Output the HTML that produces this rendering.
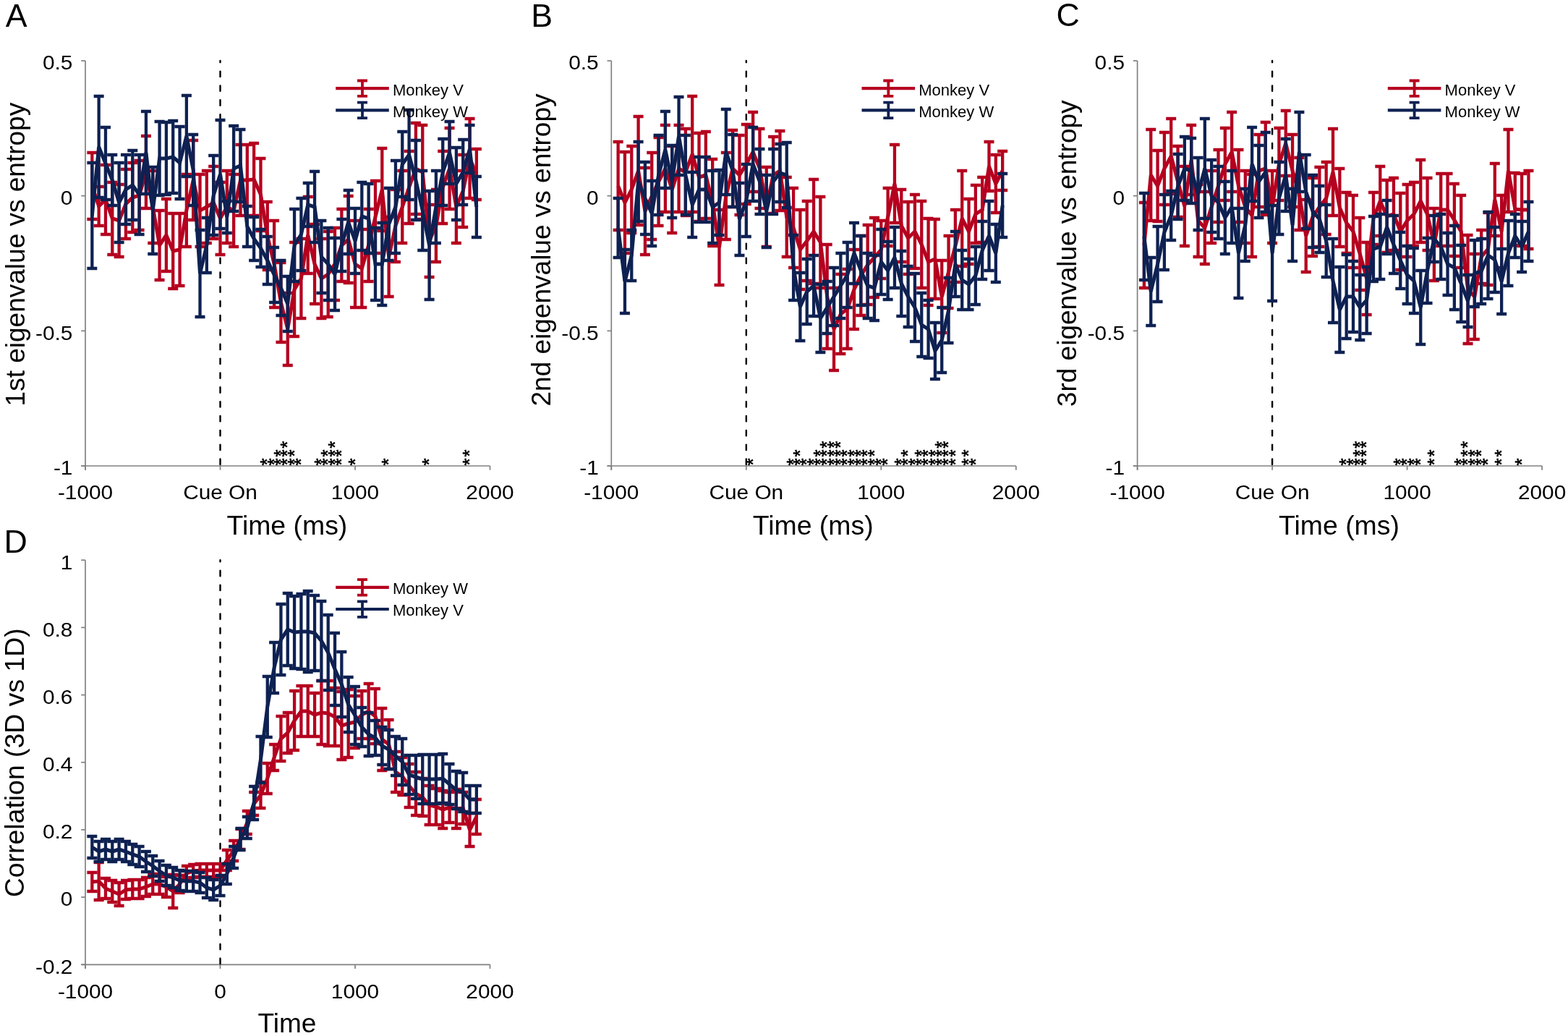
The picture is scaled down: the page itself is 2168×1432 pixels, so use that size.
<!DOCTYPE html>
<html><head><meta charset="utf-8"><title>Figure</title>
<style>html,body{margin:0;padding:0;background:#fff;overflow:hidden;}svg{display:block;}</style>
</head><body>
<svg width="2168" height="1432" viewBox="0 0 2168 1432" font-family="'Liberation Sans', Arial, sans-serif" fill="#000">
<path d="M118.00,84.00V649.70" stroke="#808080" stroke-width="1.7" fill="none"/>
<path d="M112.20,84.00H118.00" stroke="#808080" stroke-width="1.7"/>
<path d="M112.20,270.67H118.00" stroke="#808080" stroke-width="1.7"/>
<path d="M112.20,457.34H118.00" stroke="#808080" stroke-width="1.7"/>
<path d="M112.20,644.00H118.00" stroke="#808080" stroke-width="1.7"/>
<path d="M112.20,644.00H677.50" stroke="#808080" stroke-width="1.7" fill="none"/>
<path d="M118.00,644.00V649.70" stroke="#808080" stroke-width="1.7"/>
<path d="M304.50,644.00V649.70" stroke="#808080" stroke-width="1.7"/>
<path d="M491.00,644.00V649.70" stroke="#808080" stroke-width="1.7"/>
<path d="M677.50,644.00V649.70" stroke="#808080" stroke-width="1.7"/>
<path d="M304.50,84.00V644.00" stroke="#000" stroke-width="2.4" stroke-linecap="round" stroke-dasharray="7.4 12.45" stroke-dashoffset="5.25" fill="none"/>
<text transform="translate(100.40,96.30) scale(1.065,1)" font-size="28.00" text-anchor="end">0.5</text>
<text transform="translate(100.40,282.97) scale(1.065,1)" font-size="28.00" text-anchor="end">0</text>
<text transform="translate(100.40,469.64) scale(1.065,1)" font-size="28.00" text-anchor="end">-0.5</text>
<text transform="translate(100.40,656.30) scale(1.065,1)" font-size="28.00" text-anchor="end">-1</text>
<text transform="translate(118.00,689.80) scale(1.065,1)" font-size="28.00" text-anchor="middle">-1000</text>
<text transform="translate(304.50,689.80) scale(1.065,1)" font-size="28.00" text-anchor="middle">Cue On</text>
<text transform="translate(491.00,689.80) scale(1.065,1)" font-size="28.00" text-anchor="middle">1000</text>
<text transform="translate(677.50,689.80) scale(1.065,1)" font-size="28.00" text-anchor="middle">2000</text>
<text transform="translate(378.44,638.40) rotate(-90)" font-size="26.0" text-anchor="middle" stroke="#000" stroke-width="0.6">*</text>
<text transform="translate(387.76,638.40) rotate(-90)" font-size="26.0" text-anchor="middle" stroke="#000" stroke-width="0.6">*</text>
<text transform="translate(397.09,638.40) rotate(-90)" font-size="26.0" text-anchor="middle" stroke="#000" stroke-width="0.6">*</text>
<text transform="translate(406.41,638.40) rotate(-90)" font-size="26.0" text-anchor="middle" stroke="#000" stroke-width="0.6">*</text>
<text transform="translate(415.74,638.40) rotate(-90)" font-size="26.0" text-anchor="middle" stroke="#000" stroke-width="0.6">*</text>
<text transform="translate(425.06,638.40) rotate(-90)" font-size="26.0" text-anchor="middle" stroke="#000" stroke-width="0.6">*</text>
<text transform="translate(453.04,638.40) rotate(-90)" font-size="26.0" text-anchor="middle" stroke="#000" stroke-width="0.6">*</text>
<text transform="translate(462.36,638.40) rotate(-90)" font-size="26.0" text-anchor="middle" stroke="#000" stroke-width="0.6">*</text>
<text transform="translate(471.69,638.40) rotate(-90)" font-size="26.0" text-anchor="middle" stroke="#000" stroke-width="0.6">*</text>
<text transform="translate(481.01,638.40) rotate(-90)" font-size="26.0" text-anchor="middle" stroke="#000" stroke-width="0.6">*</text>
<text transform="translate(499.66,638.40) rotate(-90)" font-size="26.0" text-anchor="middle" stroke="#000" stroke-width="0.6">*</text>
<text transform="translate(546.29,638.40) rotate(-90)" font-size="26.0" text-anchor="middle" stroke="#000" stroke-width="0.6">*</text>
<text transform="translate(602.24,638.40) rotate(-90)" font-size="26.0" text-anchor="middle" stroke="#000" stroke-width="0.6">*</text>
<text transform="translate(658.19,638.40) rotate(-90)" font-size="26.0" text-anchor="middle" stroke="#000" stroke-width="0.6">*</text>
<text transform="translate(397.09,626.50) rotate(-90)" font-size="26.0" text-anchor="middle" stroke="#000" stroke-width="0.6">*</text>
<text transform="translate(406.41,626.50) rotate(-90)" font-size="26.0" text-anchor="middle" stroke="#000" stroke-width="0.6">*</text>
<text transform="translate(415.74,626.50) rotate(-90)" font-size="26.0" text-anchor="middle" stroke="#000" stroke-width="0.6">*</text>
<text transform="translate(462.36,626.50) rotate(-90)" font-size="26.0" text-anchor="middle" stroke="#000" stroke-width="0.6">*</text>
<text transform="translate(471.69,626.50) rotate(-90)" font-size="26.0" text-anchor="middle" stroke="#000" stroke-width="0.6">*</text>
<text transform="translate(481.01,626.50) rotate(-90)" font-size="26.0" text-anchor="middle" stroke="#000" stroke-width="0.6">*</text>
<text transform="translate(658.19,626.50) rotate(-90)" font-size="26.0" text-anchor="middle" stroke="#000" stroke-width="0.6">*</text>
<text transform="translate(406.41,614.60) rotate(-90)" font-size="26.0" text-anchor="middle" stroke="#000" stroke-width="0.6">*</text>
<text transform="translate(471.69,614.60) rotate(-90)" font-size="26.0" text-anchor="middle" stroke="#000" stroke-width="0.6">*</text>
<path d="M127.33,211.00V303.00M120.33,211.00H134.32M120.33,303.00H134.32M136.65,258.00V312.00M129.65,258.00H143.65M129.65,312.00H143.65M145.97,228.00V324.00M138.97,228.00H152.97M138.97,324.00H152.97M155.30,252.00V352.00M148.30,252.00H162.30M148.30,352.00H162.30M164.62,255.00V355.00M157.62,255.00H171.62M157.62,355.00H171.62M173.95,234.00V330.00M166.95,234.00H180.95M166.95,330.00H180.95M183.28,225.00V321.00M176.28,225.00H190.28M176.28,321.00H190.28M192.60,222.00V318.00M185.60,222.00H199.60M185.60,318.00H199.60M201.93,188.00V288.00M194.93,188.00H208.93M194.93,288.00H208.93M211.25,236.00V336.00M204.25,236.00H218.25M204.25,336.00H218.25M220.57,291.00V387.00M213.57,291.00H227.57M213.57,387.00H227.57M229.90,275.00V375.00M222.90,275.00H236.90M222.90,375.00H236.90M239.22,295.00V399.00M232.22,295.00H246.22M232.22,399.00H246.22M248.55,295.00V395.00M241.55,295.00H255.55M241.55,395.00H255.55M257.88,241.00V341.00M250.88,241.00H264.88M250.88,341.00H264.88M267.20,194.00V304.00M260.20,194.00H274.20M260.20,304.00H274.20M276.52,241.00V341.00M269.52,241.00H283.52M269.52,341.00H283.52M285.85,236.00V336.00M278.85,236.00H292.85M278.85,336.00H292.85M295.18,230.00V330.00M288.18,230.00H302.18M288.18,330.00H302.18M304.50,252.00V352.00M297.50,252.00H311.50M297.50,352.00H311.50M313.82,236.00V336.00M306.82,236.00H320.82M306.82,336.00H320.82M323.15,241.00V341.00M316.15,241.00H330.15M316.15,341.00H330.15M332.48,200.00V298.00M325.48,200.00H339.48M325.48,298.00H339.48M341.80,200.00V298.00M334.80,200.00H348.80M334.80,298.00H348.80M351.12,198.00V298.00M344.12,198.00H358.12M344.12,298.00H358.12M360.45,219.00V319.00M353.45,219.00H367.45M353.45,319.00H367.45M369.77,279.00V373.00M362.77,279.00H376.77M362.77,373.00H376.77M379.10,305.00V425.00M372.10,305.00H386.10M372.10,425.00H386.10M388.43,363.00V473.00M381.43,363.00H395.43M381.43,473.00H395.43M397.75,405.00V505.00M390.75,405.00H404.75M390.75,505.00H404.75M407.07,335.00V465.00M400.07,335.00H414.07M400.07,465.00H414.07M416.40,330.00V440.00M409.40,330.00H423.40M409.40,440.00H423.40M425.73,272.00V378.00M418.73,272.00H432.73M418.73,378.00H432.73M435.05,310.00V420.00M428.05,310.00H442.05M428.05,420.00H442.05M444.38,330.00V440.00M437.38,330.00H451.38M437.38,440.00H451.38M453.70,320.00V438.00M446.70,320.00H460.70M446.70,438.00H460.70M463.02,315.00V415.00M456.02,315.00H470.02M456.02,415.00H470.02M472.35,289.00V389.00M465.35,289.00H479.35M465.35,389.00H479.35M481.68,271.00V391.00M474.68,271.00H488.68M474.68,391.00H488.68M491.00,305.00V425.00M484.00,305.00H498.00M484.00,425.00H498.00M500.32,317.00V425.00M493.32,317.00H507.32M493.32,425.00H507.32M509.65,289.00V389.00M502.65,289.00H516.65M502.65,389.00H516.65M518.98,250.00V350.00M511.98,250.00H525.98M511.98,350.00H525.98M528.30,205.00V319.00M521.30,205.00H535.30M521.30,319.00H535.30M537.62,300.00V410.00M530.62,300.00H544.62M530.62,410.00H544.62M546.95,262.00V362.00M539.95,262.00H553.95M539.95,362.00H553.95M556.27,236.00V336.00M549.27,236.00H563.27M549.27,336.00H563.27M565.60,209.00V309.00M558.60,209.00H572.60M558.60,309.00H572.60M574.92,170.00V296.00M567.92,170.00H581.92M567.92,296.00H581.92M584.25,173.00V303.00M577.25,173.00H591.25M577.25,303.00H591.25M593.58,283.00V383.00M586.58,283.00H600.58M586.58,383.00H600.58M602.90,262.00V362.00M595.90,262.00H609.90M595.90,362.00H609.90M612.23,209.00V309.00M605.23,209.00H619.23M605.23,309.00H619.23M621.55,177.00V289.00M614.55,177.00H628.55M614.55,289.00H628.55M630.88,236.00V336.00M623.88,236.00H637.88M623.88,336.00H637.88M640.20,214.00V314.00M633.20,214.00H647.20M633.20,314.00H647.20M649.52,164.00V274.00M642.52,164.00H656.52M642.52,274.00H656.52M658.85,206.00V276.00M651.85,206.00H665.85M651.85,276.00H665.85" stroke="#B5001F" stroke-width="4.3" fill="none"/>
<path d="M127.33,257.00 L136.65,285.00 L145.97,276.00 L155.30,302.00 L164.62,305.00 L173.95,282.00 L183.28,273.00 L192.60,270.00 L201.93,238.00 L211.25,286.00 L220.57,339.00 L229.90,325.00 L239.22,347.00 L248.55,345.00 L257.88,291.00 L267.20,249.00 L276.52,291.00 L285.85,286.00 L295.18,280.00 L304.50,302.00 L313.82,286.00 L323.15,291.00 L332.48,249.00 L341.80,249.00 L351.12,248.00 L360.45,269.00 L369.77,326.00 L379.10,365.00 L388.43,418.00 L397.75,455.00 L407.07,400.00 L416.40,385.00 L425.73,325.00 L435.05,365.00 L444.38,385.00 L453.70,379.00 L463.02,365.00 L472.35,339.00 L481.68,331.00 L491.00,365.00 L500.32,371.00 L509.65,339.00 L518.98,300.00 L528.30,262.00 L537.62,355.00 L546.95,312.00 L556.27,286.00 L565.60,259.00 L574.92,233.00 L584.25,238.00 L593.58,333.00 L602.90,312.00 L612.23,259.00 L621.55,233.00 L630.88,286.00 L640.20,264.00 L649.52,219.00 L658.85,241.00" stroke="#B5001F" stroke-width="5.0" fill="none" stroke-linejoin="miter" stroke-miterlimit="2.5"/>
<path d="M127.33,225.00V371.00M120.33,225.00H134.32M120.33,371.00H134.32M136.65,133.00V273.00M129.65,133.00H143.65M129.65,273.00H143.65M145.97,176.00V276.00M138.97,176.00H152.97M138.97,276.00H152.97M155.30,214.00V284.00M148.30,214.00H162.30M148.30,284.00H162.30M164.62,225.00V335.00M157.62,225.00H171.62M157.62,335.00H171.62M173.95,214.00V310.00M166.95,214.00H180.95M166.95,310.00H180.95M183.28,208.00V304.00M176.28,208.00H190.28M176.28,304.00H190.28M192.60,214.00V324.00M185.60,214.00H199.60M185.60,324.00H199.60M201.93,154.00V268.00M194.93,154.00H208.93M194.93,268.00H208.93M211.25,231.00V351.00M204.25,231.00H218.25M204.25,351.00H218.25M220.57,168.00V270.00M213.57,168.00H227.57M213.57,270.00H227.57M229.90,169.00V269.00M222.90,169.00H236.90M222.90,269.00H236.90M239.22,167.00V267.00M232.22,167.00H246.22M232.22,267.00H246.22M248.55,175.00V275.00M241.55,175.00H255.55M241.55,275.00H255.55M257.88,132.00V244.00M250.88,132.00H264.88M250.88,244.00H264.88M267.20,186.00V284.00M260.20,186.00H274.20M260.20,284.00H274.20M276.52,318.00V438.00M269.52,318.00H283.52M269.52,438.00H283.52M285.85,301.00V377.00M278.85,301.00H292.85M278.85,377.00H292.85M295.18,215.00V325.00M288.18,215.00H302.18M288.18,325.00H302.18M304.50,166.00V316.00M297.50,166.00H311.50M297.50,316.00H311.50M313.82,278.00V322.00M306.82,278.00H320.82M306.82,322.00H320.82M323.15,174.00V292.00M316.15,174.00H330.15M316.15,292.00H330.15M332.48,179.00V279.00M325.48,179.00H339.48M325.48,279.00H339.48M341.80,285.00V341.00M334.80,285.00H348.80M334.80,341.00H348.80M351.12,300.00V360.00M344.12,300.00H358.12M344.12,360.00H358.12M360.45,317.00V369.00M353.45,317.00H367.45M353.45,369.00H367.45M369.77,327.00V393.00M362.77,327.00H376.77M362.77,393.00H376.77M379.10,342.00V418.00M372.10,342.00H386.10M372.10,418.00H386.10M388.43,360.00V436.00M381.43,360.00H395.43M381.43,436.00H395.43M397.75,382.00V458.00M390.75,382.00H404.75M390.75,458.00H404.75M407.07,289.00V389.00M400.07,289.00H414.07M400.07,389.00H414.07M416.40,274.00V374.00M409.40,274.00H423.40M409.40,374.00H423.40M425.73,253.00V313.00M418.73,253.00H432.73M418.73,313.00H432.73M435.05,237.00V335.00M428.05,237.00H442.05M428.05,335.00H442.05M444.38,305.00V405.00M437.38,305.00H451.38M437.38,405.00H451.38M453.70,315.00V415.00M446.70,315.00H460.70M446.70,415.00H460.70M463.02,329.00V429.00M456.02,329.00H470.02M456.02,429.00H470.02M472.35,303.00V375.00M465.35,303.00H479.35M465.35,375.00H479.35M481.68,263.00V351.00M474.68,263.00H488.68M474.68,351.00H488.68M491.00,288.00V378.00M484.00,288.00H498.00M484.00,378.00H498.00M500.32,252.00V346.00M493.32,252.00H507.32M493.32,346.00H507.32M509.65,254.00V350.00M502.65,254.00H516.65M502.65,350.00H516.65M518.98,315.00V415.00M511.98,315.00H525.98M511.98,415.00H525.98M528.30,308.00V422.00M521.30,308.00H535.30M521.30,422.00H535.30M537.62,260.00V360.00M530.62,260.00H544.62M530.62,360.00H544.62M546.95,222.00V350.00M539.95,222.00H553.95M539.95,350.00H553.95M556.27,182.00V272.00M549.27,182.00H563.27M549.27,272.00H563.27M565.60,152.00V276.00M558.60,152.00H572.60M558.60,276.00H572.60M574.92,194.00V304.00M567.92,194.00H581.92M567.92,304.00H581.92M584.25,236.00V346.00M577.25,236.00H591.25M577.25,346.00H591.25M593.58,264.00V414.00M586.58,264.00H600.58M586.58,414.00H600.58M602.90,236.00V336.00M595.90,236.00H609.90M595.90,336.00H609.90M612.23,192.00V284.00M605.23,192.00H619.23M605.23,284.00H619.23M621.55,168.00V254.00M614.55,168.00H628.55M614.55,254.00H628.55M630.88,204.00V304.00M623.88,204.00H637.88M623.88,304.00H637.88M640.20,193.00V283.00M633.20,193.00H647.20M633.20,283.00H647.20M649.52,173.00V239.00M642.52,173.00H656.52M642.52,239.00H656.52M658.85,244.00V328.00M651.85,244.00H665.85M651.85,328.00H665.85" stroke="#0E2152" stroke-width="4.3" fill="none"/>
<path d="M127.33,298.00 L136.65,203.00 L145.97,226.00 L155.30,249.00 L164.62,280.00 L173.95,262.00 L183.28,256.00 L192.60,269.00 L201.93,211.00 L211.25,291.00 L220.57,219.00 L229.90,219.00 L239.22,217.00 L248.55,225.00 L257.88,188.00 L267.20,235.00 L276.52,378.00 L285.85,339.00 L295.18,270.00 L304.50,241.00 L313.82,300.00 L323.15,233.00 L332.48,229.00 L341.80,313.00 L351.12,330.00 L360.45,343.00 L369.77,360.00 L379.10,380.00 L388.43,398.00 L397.75,420.00 L407.07,339.00 L416.40,324.00 L425.73,283.00 L435.05,286.00 L444.38,355.00 L453.70,365.00 L463.02,379.00 L472.35,339.00 L481.68,307.00 L491.00,333.00 L500.32,299.00 L509.65,302.00 L518.98,365.00 L528.30,365.00 L537.62,310.00 L546.95,286.00 L556.27,227.00 L565.60,214.00 L574.92,249.00 L584.25,291.00 L593.58,339.00 L602.90,286.00 L612.23,238.00 L621.55,211.00 L630.88,254.00 L640.20,238.00 L649.52,206.00 L658.85,286.00" stroke="#0E2152" stroke-width="5.0" fill="none" stroke-linejoin="miter" stroke-miterlimit="2.5"/>
<path d="M464.20,122.10H537.80" stroke="#B5001F" stroke-width="4.2"/>
<path d="M501.00,111.50V132.90M494.00,111.50H508.00M494.00,132.90H508.00" stroke="#B5001F" stroke-width="3.8" fill="none"/>
<text x="543.00" y="131.50" font-size="22.00" text-anchor="start">Monkey V</text>
<path d="M464.20,152.30H537.80" stroke="#0E2152" stroke-width="4.2"/>
<path d="M501.00,141.70V163.10M494.00,141.70H508.00M494.00,163.10H508.00" stroke="#0E2152" stroke-width="3.8" fill="none"/>
<text x="543.00" y="161.70" font-size="22.00" text-anchor="start">Monkey W</text>
<text transform="translate(34.00,351.60) rotate(-90)" font-size="37" text-anchor="middle">1st eigenvalue vs entropy</text>
<text x="396.90" y="739.20" font-size="37.40" text-anchor="middle">Time (ms)</text>
<text x="7.70" y="37.00" font-size="44.70" text-anchor="start">A</text>
<path d="M845.30,84.00V649.70" stroke="#808080" stroke-width="1.7" fill="none"/>
<path d="M839.50,84.00H845.30" stroke="#808080" stroke-width="1.7"/>
<path d="M839.50,270.67H845.30" stroke="#808080" stroke-width="1.7"/>
<path d="M839.50,457.34H845.30" stroke="#808080" stroke-width="1.7"/>
<path d="M839.50,644.00H845.30" stroke="#808080" stroke-width="1.7"/>
<path d="M839.50,644.00H1404.80" stroke="#808080" stroke-width="1.7" fill="none"/>
<path d="M845.30,644.00V649.70" stroke="#808080" stroke-width="1.7"/>
<path d="M1031.80,644.00V649.70" stroke="#808080" stroke-width="1.7"/>
<path d="M1218.30,644.00V649.70" stroke="#808080" stroke-width="1.7"/>
<path d="M1404.80,644.00V649.70" stroke="#808080" stroke-width="1.7"/>
<path d="M1031.80,84.00V644.00" stroke="#000" stroke-width="2.4" stroke-linecap="round" stroke-dasharray="7.4 12.45" stroke-dashoffset="5.25" fill="none"/>
<text transform="translate(827.70,96.30) scale(1.065,1)" font-size="28.00" text-anchor="end">0.5</text>
<text transform="translate(827.70,282.97) scale(1.065,1)" font-size="28.00" text-anchor="end">0</text>
<text transform="translate(827.70,469.64) scale(1.065,1)" font-size="28.00" text-anchor="end">-0.5</text>
<text transform="translate(827.70,656.30) scale(1.065,1)" font-size="28.00" text-anchor="end">-1</text>
<text transform="translate(845.30,689.80) scale(1.065,1)" font-size="28.00" text-anchor="middle">-1000</text>
<text transform="translate(1031.80,689.80) scale(1.065,1)" font-size="28.00" text-anchor="middle">Cue On</text>
<text transform="translate(1218.30,689.80) scale(1.065,1)" font-size="28.00" text-anchor="middle">1000</text>
<text transform="translate(1404.80,689.80) scale(1.065,1)" font-size="28.00" text-anchor="middle">2000</text>
<text transform="translate(1049.79,638.40) rotate(-90)" font-size="26.0" text-anchor="middle" stroke="#000" stroke-width="0.6">*</text>
<text transform="translate(1105.74,638.40) rotate(-90)" font-size="26.0" text-anchor="middle" stroke="#000" stroke-width="0.6">*</text>
<text transform="translate(1115.06,638.40) rotate(-90)" font-size="26.0" text-anchor="middle" stroke="#000" stroke-width="0.6">*</text>
<text transform="translate(1124.39,638.40) rotate(-90)" font-size="26.0" text-anchor="middle" stroke="#000" stroke-width="0.6">*</text>
<text transform="translate(1133.71,638.40) rotate(-90)" font-size="26.0" text-anchor="middle" stroke="#000" stroke-width="0.6">*</text>
<text transform="translate(1143.04,638.40) rotate(-90)" font-size="26.0" text-anchor="middle" stroke="#000" stroke-width="0.6">*</text>
<text transform="translate(1152.36,638.40) rotate(-90)" font-size="26.0" text-anchor="middle" stroke="#000" stroke-width="0.6">*</text>
<text transform="translate(1161.69,638.40) rotate(-90)" font-size="26.0" text-anchor="middle" stroke="#000" stroke-width="0.6">*</text>
<text transform="translate(1171.01,638.40) rotate(-90)" font-size="26.0" text-anchor="middle" stroke="#000" stroke-width="0.6">*</text>
<text transform="translate(1180.34,638.40) rotate(-90)" font-size="26.0" text-anchor="middle" stroke="#000" stroke-width="0.6">*</text>
<text transform="translate(1189.66,638.40) rotate(-90)" font-size="26.0" text-anchor="middle" stroke="#000" stroke-width="0.6">*</text>
<text transform="translate(1198.99,638.40) rotate(-90)" font-size="26.0" text-anchor="middle" stroke="#000" stroke-width="0.6">*</text>
<text transform="translate(1208.31,638.40) rotate(-90)" font-size="26.0" text-anchor="middle" stroke="#000" stroke-width="0.6">*</text>
<text transform="translate(1217.64,638.40) rotate(-90)" font-size="26.0" text-anchor="middle" stroke="#000" stroke-width="0.6">*</text>
<text transform="translate(1226.96,638.40) rotate(-90)" font-size="26.0" text-anchor="middle" stroke="#000" stroke-width="0.6">*</text>
<text transform="translate(1236.29,638.40) rotate(-90)" font-size="26.0" text-anchor="middle" stroke="#000" stroke-width="0.6">*</text>
<text transform="translate(1254.94,638.40) rotate(-90)" font-size="26.0" text-anchor="middle" stroke="#000" stroke-width="0.6">*</text>
<text transform="translate(1264.26,638.40) rotate(-90)" font-size="26.0" text-anchor="middle" stroke="#000" stroke-width="0.6">*</text>
<text transform="translate(1273.59,638.40) rotate(-90)" font-size="26.0" text-anchor="middle" stroke="#000" stroke-width="0.6">*</text>
<text transform="translate(1282.91,638.40) rotate(-90)" font-size="26.0" text-anchor="middle" stroke="#000" stroke-width="0.6">*</text>
<text transform="translate(1292.24,638.40) rotate(-90)" font-size="26.0" text-anchor="middle" stroke="#000" stroke-width="0.6">*</text>
<text transform="translate(1301.56,638.40) rotate(-90)" font-size="26.0" text-anchor="middle" stroke="#000" stroke-width="0.6">*</text>
<text transform="translate(1310.89,638.40) rotate(-90)" font-size="26.0" text-anchor="middle" stroke="#000" stroke-width="0.6">*</text>
<text transform="translate(1320.21,638.40) rotate(-90)" font-size="26.0" text-anchor="middle" stroke="#000" stroke-width="0.6">*</text>
<text transform="translate(1329.54,638.40) rotate(-90)" font-size="26.0" text-anchor="middle" stroke="#000" stroke-width="0.6">*</text>
<text transform="translate(1348.19,638.40) rotate(-90)" font-size="26.0" text-anchor="middle" stroke="#000" stroke-width="0.6">*</text>
<text transform="translate(1357.51,638.40) rotate(-90)" font-size="26.0" text-anchor="middle" stroke="#000" stroke-width="0.6">*</text>
<text transform="translate(1115.06,626.50) rotate(-90)" font-size="26.0" text-anchor="middle" stroke="#000" stroke-width="0.6">*</text>
<text transform="translate(1143.04,626.50) rotate(-90)" font-size="26.0" text-anchor="middle" stroke="#000" stroke-width="0.6">*</text>
<text transform="translate(1152.36,626.50) rotate(-90)" font-size="26.0" text-anchor="middle" stroke="#000" stroke-width="0.6">*</text>
<text transform="translate(1161.69,626.50) rotate(-90)" font-size="26.0" text-anchor="middle" stroke="#000" stroke-width="0.6">*</text>
<text transform="translate(1171.01,626.50) rotate(-90)" font-size="26.0" text-anchor="middle" stroke="#000" stroke-width="0.6">*</text>
<text transform="translate(1180.34,626.50) rotate(-90)" font-size="26.0" text-anchor="middle" stroke="#000" stroke-width="0.6">*</text>
<text transform="translate(1189.66,626.50) rotate(-90)" font-size="26.0" text-anchor="middle" stroke="#000" stroke-width="0.6">*</text>
<text transform="translate(1198.99,626.50) rotate(-90)" font-size="26.0" text-anchor="middle" stroke="#000" stroke-width="0.6">*</text>
<text transform="translate(1208.31,626.50) rotate(-90)" font-size="26.0" text-anchor="middle" stroke="#000" stroke-width="0.6">*</text>
<text transform="translate(1217.64,626.50) rotate(-90)" font-size="26.0" text-anchor="middle" stroke="#000" stroke-width="0.6">*</text>
<text transform="translate(1264.26,626.50) rotate(-90)" font-size="26.0" text-anchor="middle" stroke="#000" stroke-width="0.6">*</text>
<text transform="translate(1282.91,626.50) rotate(-90)" font-size="26.0" text-anchor="middle" stroke="#000" stroke-width="0.6">*</text>
<text transform="translate(1292.24,626.50) rotate(-90)" font-size="26.0" text-anchor="middle" stroke="#000" stroke-width="0.6">*</text>
<text transform="translate(1301.56,626.50) rotate(-90)" font-size="26.0" text-anchor="middle" stroke="#000" stroke-width="0.6">*</text>
<text transform="translate(1310.89,626.50) rotate(-90)" font-size="26.0" text-anchor="middle" stroke="#000" stroke-width="0.6">*</text>
<text transform="translate(1320.21,626.50) rotate(-90)" font-size="26.0" text-anchor="middle" stroke="#000" stroke-width="0.6">*</text>
<text transform="translate(1329.54,626.50) rotate(-90)" font-size="26.0" text-anchor="middle" stroke="#000" stroke-width="0.6">*</text>
<text transform="translate(1348.19,626.50) rotate(-90)" font-size="26.0" text-anchor="middle" stroke="#000" stroke-width="0.6">*</text>
<text transform="translate(1152.36,614.60) rotate(-90)" font-size="26.0" text-anchor="middle" stroke="#000" stroke-width="0.6">*</text>
<text transform="translate(1161.69,614.60) rotate(-90)" font-size="26.0" text-anchor="middle" stroke="#000" stroke-width="0.6">*</text>
<text transform="translate(1171.01,614.60) rotate(-90)" font-size="26.0" text-anchor="middle" stroke="#000" stroke-width="0.6">*</text>
<text transform="translate(1310.89,614.60) rotate(-90)" font-size="26.0" text-anchor="middle" stroke="#000" stroke-width="0.6">*</text>
<text transform="translate(1320.21,614.60) rotate(-90)" font-size="26.0" text-anchor="middle" stroke="#000" stroke-width="0.6">*</text>
<path d="M854.62,196.00V318.00M847.62,196.00H861.62M847.62,318.00H861.62M863.95,210.00V350.00M856.95,210.00H870.95M856.95,350.00H870.95M873.27,202.00V322.00M866.27,202.00H880.27M866.27,322.00H880.27M882.60,161.00V311.00M875.60,161.00H889.60M875.60,311.00H889.60M891.92,232.00V352.00M884.92,232.00H898.92M884.92,352.00H898.92M901.25,211.00V331.00M894.25,211.00H908.25M894.25,331.00H908.25M910.57,190.00V312.00M903.57,190.00H917.57M903.57,312.00H917.57M919.90,173.00V293.00M912.90,173.00H926.90M912.90,293.00H926.90M929.22,202.00V322.00M922.22,202.00H936.22M922.22,322.00H936.22M938.55,173.00V293.00M931.55,173.00H945.55M931.55,293.00H945.55M947.88,178.00V298.00M940.88,178.00H954.88M940.88,298.00H954.88M957.20,133.00V293.00M950.20,133.00H964.20M950.20,293.00H964.20M966.52,184.00V306.00M959.52,184.00H973.52M959.52,306.00H973.52M975.85,182.00V302.00M968.85,182.00H982.85M968.85,302.00H982.85M985.17,220.00V340.00M978.17,220.00H992.17M978.17,340.00H992.17M994.50,290.00V394.00M987.50,290.00H1001.50M987.50,394.00H1001.50M1003.82,211.00V331.00M996.82,211.00H1010.82M996.82,331.00H1010.82M1013.15,180.00V286.00M1006.15,180.00H1020.15M1006.15,286.00H1020.15M1022.47,187.00V297.00M1015.47,187.00H1029.47M1015.47,297.00H1029.47M1031.80,172.00V282.00M1024.80,172.00H1038.80M1024.80,282.00H1038.80M1041.12,155.00V265.00M1034.12,155.00H1048.12M1034.12,265.00H1048.12M1050.45,178.00V288.00M1043.45,178.00H1057.45M1043.45,288.00H1057.45M1059.77,231.00V341.00M1052.77,231.00H1066.77M1052.77,341.00H1066.77M1069.10,189.00V295.00M1062.10,189.00H1076.10M1062.10,295.00H1076.10M1078.42,181.00V291.00M1071.42,181.00H1085.42M1071.42,291.00H1085.42M1087.75,245.00V355.00M1080.75,245.00H1094.75M1080.75,355.00H1094.75M1097.08,260.00V370.00M1090.08,260.00H1104.08M1090.08,370.00H1104.08M1106.40,290.00V400.00M1099.40,290.00H1113.40M1099.40,400.00H1113.40M1115.72,278.00V388.00M1108.72,278.00H1122.72M1108.72,388.00H1122.72M1125.05,248.00V392.00M1118.05,248.00H1132.05M1118.05,392.00H1132.05M1134.38,272.00V398.00M1127.38,272.00H1141.38M1127.38,398.00H1141.38M1143.70,338.00V482.00M1136.70,338.00H1150.70M1136.70,482.00H1150.70M1153.03,398.00V512.00M1146.03,398.00H1160.03M1146.03,512.00H1160.03M1162.35,379.00V489.00M1155.35,379.00H1169.35M1155.35,489.00H1169.35M1171.67,372.00V482.00M1164.67,372.00H1178.67M1164.67,482.00H1178.67M1181.00,345.00V455.00M1174.00,345.00H1188.00M1174.00,455.00H1188.00M1190.32,326.00V436.00M1183.32,326.00H1197.32M1183.32,436.00H1197.32M1199.65,311.00V421.00M1192.65,311.00H1206.65M1192.65,421.00H1206.65M1208.97,301.00V411.00M1201.97,301.00H1215.97M1201.97,411.00H1215.97M1218.30,305.00V385.00M1211.30,305.00H1225.30M1211.30,385.00H1225.30M1227.62,260.00V340.00M1220.62,260.00H1234.62M1220.62,340.00H1234.62M1236.95,200.00V308.00M1229.95,200.00H1243.95M1229.95,308.00H1243.95M1246.28,262.00V362.00M1239.28,262.00H1253.28M1239.28,362.00H1253.28M1255.60,279.00V379.00M1248.60,279.00H1262.60M1248.60,379.00H1262.60M1264.92,269.00V371.00M1257.92,269.00H1271.92M1257.92,371.00H1271.92M1274.25,278.00V398.00M1267.25,278.00H1281.25M1267.25,398.00H1281.25M1283.57,302.00V422.00M1276.57,302.00H1290.57M1276.57,422.00H1290.57M1292.90,303.00V413.00M1285.90,303.00H1299.90M1285.90,413.00H1299.90M1302.22,360.00V460.00M1295.22,360.00H1309.22M1295.22,460.00H1309.22M1311.55,326.00V426.00M1304.55,326.00H1318.55M1304.55,426.00H1318.55M1320.88,290.00V390.00M1313.88,290.00H1327.88M1313.88,390.00H1327.88M1330.20,236.00V368.00M1323.20,236.00H1337.20M1323.20,368.00H1337.20M1339.53,275.00V365.00M1332.53,275.00H1346.53M1332.53,365.00H1346.53M1348.85,256.00V336.00M1341.85,256.00H1355.85M1341.85,336.00H1355.85M1358.17,245.00V335.00M1351.17,245.00H1365.17M1351.17,335.00H1365.17M1367.50,196.00V264.00M1360.50,196.00H1374.50M1360.50,264.00H1374.50M1376.82,214.00V294.00M1369.82,214.00H1383.82M1369.82,294.00H1383.82M1386.15,209.00V263.00M1379.15,209.00H1393.15M1379.15,263.00H1393.15" stroke="#B5001F" stroke-width="4.3" fill="none"/>
<path d="M854.62,257.00 L863.95,280.00 L873.27,262.00 L882.60,236.00 L891.92,292.00 L901.25,271.00 L910.57,251.00 L919.90,233.00 L929.22,262.00 L938.55,233.00 L947.88,238.00 L957.20,213.00 L966.52,245.00 L975.85,242.00 L985.17,280.00 L994.50,342.00 L1003.82,271.00 L1013.15,233.00 L1022.47,242.00 L1031.80,227.00 L1041.12,210.00 L1050.45,233.00 L1059.77,286.00 L1069.10,242.00 L1078.42,236.00 L1087.75,300.00 L1097.08,315.00 L1106.40,345.00 L1115.72,333.00 L1125.05,320.00 L1134.38,335.00 L1143.70,410.00 L1153.03,455.00 L1162.35,434.00 L1171.67,427.00 L1181.00,400.00 L1190.32,381.00 L1199.65,366.00 L1208.97,356.00 L1218.30,345.00 L1227.62,300.00 L1236.95,254.00 L1246.28,312.00 L1255.60,329.00 L1264.92,320.00 L1274.25,338.00 L1283.57,362.00 L1292.90,358.00 L1302.22,410.00 L1311.55,376.00 L1320.88,340.00 L1330.20,302.00 L1339.53,320.00 L1348.85,296.00 L1358.17,290.00 L1367.50,230.00 L1376.82,254.00 L1386.15,236.00" stroke="#B5001F" stroke-width="5.0" fill="none" stroke-linejoin="miter" stroke-miterlimit="2.5"/>
<path d="M854.62,274.00V356.00M847.62,274.00H861.62M847.62,356.00H861.62M863.95,345.00V433.00M856.95,345.00H870.95M856.95,433.00H870.95M873.27,318.00V388.00M866.27,318.00H880.27M866.27,388.00H880.27M882.60,196.00V306.00M875.60,196.00H889.60M875.60,306.00H889.60M891.92,224.00V324.00M884.92,224.00H898.92M884.92,324.00H898.92M901.25,250.00V340.00M894.25,250.00H908.25M894.25,340.00H908.25M910.57,187.00V297.00M903.57,187.00H917.57M903.57,297.00H917.57M919.90,154.00V260.00M912.90,154.00H926.90M912.90,260.00H926.90M929.22,201.00V301.00M922.22,201.00H936.22M922.22,301.00H936.22M938.55,134.00V242.00M931.55,134.00H945.55M931.55,242.00H945.55M947.88,187.00V297.00M940.88,187.00H954.88M940.88,297.00H954.88M957.20,238.00V328.00M950.20,238.00H964.20M950.20,328.00H964.20M966.52,217.00V307.00M959.52,217.00H973.52M959.52,307.00H973.52M975.85,217.00V307.00M968.85,217.00H982.85M968.85,307.00H982.85M985.17,236.00V336.00M978.17,236.00H992.17M978.17,336.00H992.17M994.50,235.00V325.00M987.50,235.00H1001.50M987.50,325.00H1001.50M1003.82,151.00V269.00M996.82,151.00H1010.82M996.82,269.00H1010.82M1013.15,186.00V286.00M1006.15,186.00H1020.15M1006.15,286.00H1020.15M1022.47,253.00V353.00M1015.47,253.00H1029.47M1015.47,353.00H1029.47M1031.80,227.00V327.00M1024.80,227.00H1038.80M1024.80,327.00H1038.80M1041.12,176.00V278.00M1034.12,176.00H1048.12M1034.12,278.00H1048.12M1050.45,206.00V296.00M1043.45,206.00H1057.45M1043.45,296.00H1057.45M1059.77,242.00V342.00M1052.77,242.00H1066.77M1052.77,342.00H1066.77M1069.10,206.00V296.00M1062.10,206.00H1076.10M1062.10,296.00H1076.10M1078.42,199.00V279.00M1071.42,199.00H1085.42M1071.42,279.00H1085.42M1087.75,197.00V287.00M1080.75,197.00H1094.75M1080.75,287.00H1094.75M1097.08,325.00V415.00M1090.08,325.00H1104.08M1090.08,415.00H1104.08M1106.40,377.00V471.00M1099.40,377.00H1113.40M1099.40,471.00H1113.40M1115.72,358.00V448.00M1108.72,358.00H1122.72M1108.72,448.00H1122.72M1125.05,353.00V437.00M1118.05,353.00H1132.05M1118.05,437.00H1132.05M1134.38,393.00V487.00M1127.38,393.00H1141.38M1127.38,487.00H1141.38M1143.70,389.00V461.00M1136.70,389.00H1150.70M1136.70,461.00H1150.70M1153.03,370.00V450.00M1146.03,370.00H1160.03M1146.03,450.00H1160.03M1162.35,350.00V440.00M1155.35,350.00H1169.35M1155.35,440.00H1169.35M1171.67,335.00V425.00M1164.67,335.00H1178.67M1164.67,425.00H1178.67M1181.00,308.00V392.00M1174.00,308.00H1188.00M1174.00,392.00H1188.00M1190.32,326.00V422.00M1183.32,326.00H1197.32M1183.32,422.00H1197.32M1199.65,350.00V440.00M1192.65,350.00H1206.65M1192.65,440.00H1206.65M1208.97,353.00V443.00M1201.97,353.00H1215.97M1201.97,443.00H1215.97M1218.30,317.00V407.00M1211.30,317.00H1225.30M1211.30,407.00H1225.30M1227.62,334.00V414.00M1220.62,334.00H1234.62M1220.62,414.00H1234.62M1236.95,314.00V398.00M1229.95,314.00H1243.95M1229.95,398.00H1243.95M1246.28,347.00V437.00M1239.28,347.00H1253.28M1239.28,437.00H1253.28M1255.60,368.00V452.00M1248.60,368.00H1262.60M1248.60,452.00H1262.60M1264.92,378.00V472.00M1257.92,378.00H1271.92M1257.92,472.00H1271.92M1274.25,405.00V493.00M1267.25,405.00H1281.25M1267.25,493.00H1281.25M1283.57,415.00V495.00M1276.57,415.00H1290.57M1276.57,495.00H1290.57M1292.90,446.00V524.00M1285.90,446.00H1299.90M1285.90,524.00H1299.90M1302.22,425.00V515.00M1295.22,425.00H1309.22M1295.22,515.00H1309.22M1311.55,384.00V474.00M1304.55,384.00H1318.55M1304.55,474.00H1318.55M1320.88,320.00V410.00M1313.88,320.00H1327.88M1313.88,410.00H1327.88M1330.20,346.00V428.00M1323.20,346.00H1337.20M1323.20,428.00H1337.20M1339.53,358.00V428.00M1332.53,358.00H1346.53M1332.53,428.00H1346.53M1348.85,341.00V421.00M1341.85,341.00H1355.85M1341.85,421.00H1355.85M1358.17,306.00V386.00M1351.17,306.00H1365.17M1351.17,386.00H1365.17M1367.50,278.00V374.00M1360.50,278.00H1374.50M1360.50,374.00H1374.50M1376.82,310.00V390.00M1369.82,310.00H1383.82M1369.82,390.00H1383.82M1386.15,240.00V328.00M1379.15,240.00H1393.15M1379.15,328.00H1393.15" stroke="#0E2152" stroke-width="4.3" fill="none"/>
<path d="M854.62,315.00 L863.95,389.00 L873.27,353.00 L882.60,251.00 L891.92,274.00 L901.25,295.00 L910.57,242.00 L919.90,207.00 L929.22,251.00 L938.55,188.00 L947.88,242.00 L957.20,283.00 L966.52,262.00 L975.85,262.00 L985.17,286.00 L994.50,280.00 L1003.82,210.00 L1013.15,236.00 L1022.47,303.00 L1031.80,277.00 L1041.12,227.00 L1050.45,251.00 L1059.77,292.00 L1069.10,251.00 L1078.42,239.00 L1087.75,242.00 L1097.08,370.00 L1106.40,424.00 L1115.72,403.00 L1125.05,395.00 L1134.38,440.00 L1143.70,425.00 L1153.03,410.00 L1162.35,395.00 L1171.67,380.00 L1181.00,350.00 L1190.32,374.00 L1199.65,395.00 L1208.97,398.00 L1218.30,362.00 L1227.62,374.00 L1236.95,356.00 L1246.28,392.00 L1255.60,410.00 L1264.92,425.00 L1274.25,449.00 L1283.57,455.00 L1292.90,485.00 L1302.22,470.00 L1311.55,429.00 L1320.88,365.00 L1330.20,387.00 L1339.53,393.00 L1348.85,381.00 L1358.17,346.00 L1367.50,326.00 L1376.82,350.00 L1386.15,284.00" stroke="#0E2152" stroke-width="5.0" fill="none" stroke-linejoin="miter" stroke-miterlimit="2.5"/>
<path d="M1191.50,122.10H1265.10" stroke="#B5001F" stroke-width="4.2"/>
<path d="M1228.30,111.50V132.90M1221.30,111.50H1235.30M1221.30,132.90H1235.30" stroke="#B5001F" stroke-width="3.8" fill="none"/>
<text x="1270.30" y="131.50" font-size="22.00" text-anchor="start">Monkey V</text>
<path d="M1191.50,152.30H1265.10" stroke="#0E2152" stroke-width="4.2"/>
<path d="M1228.30,141.70V163.10M1221.30,141.70H1235.30M1221.30,163.10H1235.30" stroke="#0E2152" stroke-width="3.8" fill="none"/>
<text x="1270.30" y="161.70" font-size="22.00" text-anchor="start">Monkey W</text>
<text transform="translate(760.50,345.50) rotate(-90)" font-size="37" text-anchor="middle">2nd eigenvalue vs entropy</text>
<text x="1124.20" y="739.20" font-size="37.40" text-anchor="middle">Time (ms)</text>
<text x="734.20" y="37.00" font-size="44.70" text-anchor="start">B</text>
<path d="M1572.60,84.00V649.70" stroke="#808080" stroke-width="1.7" fill="none"/>
<path d="M1566.80,84.00H1572.60" stroke="#808080" stroke-width="1.7"/>
<path d="M1566.80,270.67H1572.60" stroke="#808080" stroke-width="1.7"/>
<path d="M1566.80,457.34H1572.60" stroke="#808080" stroke-width="1.7"/>
<path d="M1566.80,644.00H1572.60" stroke="#808080" stroke-width="1.7"/>
<path d="M1566.80,644.00H2132.10" stroke="#808080" stroke-width="1.7" fill="none"/>
<path d="M1572.60,644.00V649.70" stroke="#808080" stroke-width="1.7"/>
<path d="M1759.10,644.00V649.70" stroke="#808080" stroke-width="1.7"/>
<path d="M1945.60,644.00V649.70" stroke="#808080" stroke-width="1.7"/>
<path d="M2132.10,644.00V649.70" stroke="#808080" stroke-width="1.7"/>
<path d="M1759.10,84.00V644.00" stroke="#000" stroke-width="2.4" stroke-linecap="round" stroke-dasharray="7.4 12.45" stroke-dashoffset="5.25" fill="none"/>
<text transform="translate(1555.00,96.30) scale(1.065,1)" font-size="28.00" text-anchor="end">0.5</text>
<text transform="translate(1555.00,282.97) scale(1.065,1)" font-size="28.00" text-anchor="end">0</text>
<text transform="translate(1555.00,469.64) scale(1.065,1)" font-size="28.00" text-anchor="end">-0.5</text>
<text transform="translate(1555.00,656.30) scale(1.065,1)" font-size="28.00" text-anchor="end">-1</text>
<text transform="translate(1572.60,689.80) scale(1.065,1)" font-size="28.00" text-anchor="middle">-1000</text>
<text transform="translate(1759.10,689.80) scale(1.065,1)" font-size="28.00" text-anchor="middle">Cue On</text>
<text transform="translate(1945.60,689.80) scale(1.065,1)" font-size="28.00" text-anchor="middle">1000</text>
<text transform="translate(2132.10,689.80) scale(1.065,1)" font-size="28.00" text-anchor="middle">2000</text>
<text transform="translate(1870.34,638.40) rotate(-90)" font-size="26.0" text-anchor="middle" stroke="#000" stroke-width="0.6">*</text>
<text transform="translate(1879.66,638.40) rotate(-90)" font-size="26.0" text-anchor="middle" stroke="#000" stroke-width="0.6">*</text>
<text transform="translate(1888.99,638.40) rotate(-90)" font-size="26.0" text-anchor="middle" stroke="#000" stroke-width="0.6">*</text>
<text transform="translate(1898.31,638.40) rotate(-90)" font-size="26.0" text-anchor="middle" stroke="#000" stroke-width="0.6">*</text>
<text transform="translate(1944.94,638.40) rotate(-90)" font-size="26.0" text-anchor="middle" stroke="#000" stroke-width="0.6">*</text>
<text transform="translate(1954.26,638.40) rotate(-90)" font-size="26.0" text-anchor="middle" stroke="#000" stroke-width="0.6">*</text>
<text transform="translate(1963.59,638.40) rotate(-90)" font-size="26.0" text-anchor="middle" stroke="#000" stroke-width="0.6">*</text>
<text transform="translate(1972.91,638.40) rotate(-90)" font-size="26.0" text-anchor="middle" stroke="#000" stroke-width="0.6">*</text>
<text transform="translate(1991.56,638.40) rotate(-90)" font-size="26.0" text-anchor="middle" stroke="#000" stroke-width="0.6">*</text>
<text transform="translate(2028.86,638.40) rotate(-90)" font-size="26.0" text-anchor="middle" stroke="#000" stroke-width="0.6">*</text>
<text transform="translate(2038.19,638.40) rotate(-90)" font-size="26.0" text-anchor="middle" stroke="#000" stroke-width="0.6">*</text>
<text transform="translate(2047.51,638.40) rotate(-90)" font-size="26.0" text-anchor="middle" stroke="#000" stroke-width="0.6">*</text>
<text transform="translate(2056.84,638.40) rotate(-90)" font-size="26.0" text-anchor="middle" stroke="#000" stroke-width="0.6">*</text>
<text transform="translate(2066.16,638.40) rotate(-90)" font-size="26.0" text-anchor="middle" stroke="#000" stroke-width="0.6">*</text>
<text transform="translate(2084.81,638.40) rotate(-90)" font-size="26.0" text-anchor="middle" stroke="#000" stroke-width="0.6">*</text>
<text transform="translate(2112.79,638.40) rotate(-90)" font-size="26.0" text-anchor="middle" stroke="#000" stroke-width="0.6">*</text>
<text transform="translate(1888.99,626.50) rotate(-90)" font-size="26.0" text-anchor="middle" stroke="#000" stroke-width="0.6">*</text>
<text transform="translate(1898.31,626.50) rotate(-90)" font-size="26.0" text-anchor="middle" stroke="#000" stroke-width="0.6">*</text>
<text transform="translate(1991.56,626.50) rotate(-90)" font-size="26.0" text-anchor="middle" stroke="#000" stroke-width="0.6">*</text>
<text transform="translate(2038.19,626.50) rotate(-90)" font-size="26.0" text-anchor="middle" stroke="#000" stroke-width="0.6">*</text>
<text transform="translate(2047.51,626.50) rotate(-90)" font-size="26.0" text-anchor="middle" stroke="#000" stroke-width="0.6">*</text>
<text transform="translate(2056.84,626.50) rotate(-90)" font-size="26.0" text-anchor="middle" stroke="#000" stroke-width="0.6">*</text>
<text transform="translate(2084.81,626.50) rotate(-90)" font-size="26.0" text-anchor="middle" stroke="#000" stroke-width="0.6">*</text>
<text transform="translate(1888.99,614.60) rotate(-90)" font-size="26.0" text-anchor="middle" stroke="#000" stroke-width="0.6">*</text>
<text transform="translate(1898.31,614.60) rotate(-90)" font-size="26.0" text-anchor="middle" stroke="#000" stroke-width="0.6">*</text>
<text transform="translate(2038.19,614.60) rotate(-90)" font-size="26.0" text-anchor="middle" stroke="#000" stroke-width="0.6">*</text>
<path d="M1581.92,280.00V398.00M1574.92,280.00H1588.92M1574.92,398.00H1588.92M1591.25,179.00V305.00M1584.25,179.00H1598.25M1584.25,305.00H1598.25M1600.57,208.00V306.00M1593.57,208.00H1607.57M1593.57,306.00H1607.57M1609.90,183.00V283.00M1602.90,183.00H1616.90M1602.90,283.00H1616.90M1619.22,164.00V268.00M1612.22,164.00H1626.22M1612.22,268.00H1626.22M1628.55,202.00V300.00M1621.55,202.00H1635.55M1621.55,300.00H1635.55M1637.88,230.00V340.00M1630.88,230.00H1644.88M1630.88,340.00H1644.88M1647.20,173.00V269.00M1640.20,173.00H1654.20M1640.20,269.00H1654.20M1656.52,255.00V355.00M1649.52,255.00H1663.52M1649.52,355.00H1663.52M1665.85,265.00V365.00M1658.85,265.00H1672.85M1658.85,365.00H1672.85M1675.17,236.00V336.00M1668.17,236.00H1682.17M1668.17,336.00H1682.17M1684.50,207.00V307.00M1677.50,207.00H1691.50M1677.50,307.00H1691.50M1693.82,177.00V277.00M1686.82,177.00H1700.82M1686.82,277.00H1700.82M1703.15,155.00V265.00M1696.15,155.00H1710.15M1696.15,265.00H1710.15M1712.47,207.00V307.00M1705.47,207.00H1719.47M1705.47,307.00H1719.47M1721.80,236.00V336.00M1714.80,236.00H1728.80M1714.80,336.00H1728.80M1731.12,241.00V355.00M1724.12,241.00H1738.12M1724.12,355.00H1738.12M1740.45,186.00V286.00M1733.45,186.00H1747.45M1733.45,286.00H1747.45M1749.77,169.00V297.00M1742.77,169.00H1756.77M1742.77,297.00H1756.77M1759.10,236.00V336.00M1752.10,236.00H1766.10M1752.10,336.00H1766.10M1768.42,177.00V277.00M1761.42,177.00H1775.42M1761.42,277.00H1775.42M1777.75,153.00V243.00M1770.75,153.00H1784.75M1770.75,243.00H1784.75M1787.07,186.00V286.00M1780.07,186.00H1794.07M1780.07,286.00H1794.07M1796.40,218.00V318.00M1789.40,218.00H1803.40M1789.40,318.00H1803.40M1805.72,276.00V376.00M1798.72,276.00H1812.72M1798.72,376.00H1812.72M1815.05,246.00V354.00M1808.05,246.00H1822.05M1808.05,354.00H1822.05M1824.38,231.00V341.00M1817.38,231.00H1831.38M1817.38,341.00H1831.38M1833.70,224.00V324.00M1826.70,224.00H1840.70M1826.70,324.00H1840.70M1843.02,178.00V298.00M1836.02,178.00H1850.02M1836.02,298.00H1850.02M1852.35,233.00V341.00M1845.35,233.00H1859.35M1845.35,341.00H1859.35M1861.67,266.00V350.00M1854.67,266.00H1868.67M1854.67,350.00H1868.67M1871.00,270.00V370.00M1864.00,270.00H1878.00M1864.00,370.00H1878.00M1880.32,301.00V401.00M1873.32,301.00H1887.32M1873.32,401.00H1887.32M1889.65,335.00V435.00M1882.65,335.00H1896.65M1882.65,435.00H1896.65M1898.97,266.00V338.00M1891.97,266.00H1905.97M1891.97,338.00H1905.97M1908.30,230.00V326.00M1901.30,230.00H1915.30M1901.30,326.00H1915.30M1917.62,249.00V349.00M1910.62,249.00H1924.62M1910.62,349.00H1924.62M1926.95,246.00V346.00M1919.95,246.00H1933.95M1919.95,346.00H1933.95M1936.27,267.00V373.00M1929.27,267.00H1943.27M1929.27,373.00H1943.27M1945.60,255.00V355.00M1938.60,255.00H1952.60M1938.60,355.00H1952.60M1954.92,252.00V340.00M1947.92,252.00H1961.92M1947.92,340.00H1961.92M1964.25,221.00V335.00M1957.25,221.00H1971.25M1957.25,335.00H1971.25M1973.57,246.00V346.00M1966.57,246.00H1980.57M1966.57,346.00H1980.57M1982.90,288.00V388.00M1975.90,288.00H1989.90M1975.90,388.00H1989.90M1992.22,240.00V340.00M1985.22,240.00H1999.22M1985.22,340.00H1999.22M2001.55,240.00V340.00M1994.55,240.00H2008.55M1994.55,340.00H2008.55M2010.88,254.00V354.00M2003.88,254.00H2017.88M2003.88,354.00H2017.88M2020.20,270.00V370.00M2013.20,270.00H2027.20M2013.20,370.00H2027.20M2029.52,325.00V475.00M2022.52,325.00H2036.52M2022.52,475.00H2036.52M2038.85,351.00V469.00M2031.85,351.00H2045.85M2031.85,469.00H2045.85M2048.17,318.00V392.00M2041.17,318.00H2055.17M2041.17,392.00H2055.17M2057.50,294.00V394.00M2050.50,294.00H2064.50M2050.50,394.00H2064.50M2066.82,226.00V326.00M2059.82,226.00H2073.82M2059.82,326.00H2073.82M2076.15,270.00V370.00M2069.15,270.00H2083.15M2069.15,370.00H2083.15M2085.47,179.00V293.00M2078.47,179.00H2092.47M2078.47,293.00H2092.47M2094.80,239.00V339.00M2087.80,239.00H2101.80M2087.80,339.00H2101.80M2104.12,240.00V340.00M2097.12,240.00H2111.12M2097.12,340.00H2111.12M2113.45,236.00V344.00M2106.45,236.00H2120.45M2106.45,344.00H2120.45" stroke="#B5001F" stroke-width="4.3" fill="none"/>
<path d="M1581.92,339.00 L1591.25,242.00 L1600.57,257.00 L1609.90,233.00 L1619.22,216.00 L1628.55,251.00 L1637.88,285.00 L1647.20,221.00 L1656.52,305.00 L1665.85,315.00 L1675.17,286.00 L1684.50,257.00 L1693.82,227.00 L1703.15,210.00 L1712.47,257.00 L1721.80,286.00 L1731.12,298.00 L1740.45,236.00 L1749.77,233.00 L1759.10,286.00 L1768.42,227.00 L1777.75,198.00 L1787.07,236.00 L1796.40,268.00 L1805.72,326.00 L1815.05,300.00 L1824.38,286.00 L1833.70,274.00 L1843.02,238.00 L1852.35,287.00 L1861.67,308.00 L1871.00,320.00 L1880.32,351.00 L1889.65,385.00 L1898.97,302.00 L1908.30,278.00 L1917.62,299.00 L1926.95,296.00 L1936.27,320.00 L1945.60,305.00 L1954.92,296.00 L1964.25,278.00 L1973.57,296.00 L1982.90,338.00 L1992.22,290.00 L2001.55,290.00 L2010.88,304.00 L2020.20,320.00 L2029.52,400.00 L2038.85,410.00 L2048.17,355.00 L2057.50,344.00 L2066.82,276.00 L2076.15,320.00 L2085.47,236.00 L2094.80,289.00 L2104.12,290.00 L2113.45,290.00" stroke="#B5001F" stroke-width="5.0" fill="none" stroke-linejoin="miter" stroke-miterlimit="2.5"/>
<path d="M1581.92,267.00V387.00M1574.92,267.00H1588.92M1574.92,387.00H1588.92M1591.25,356.00V450.00M1584.25,356.00H1598.25M1584.25,450.00H1598.25M1600.57,313.00V417.00M1593.57,313.00H1607.57M1593.57,417.00H1607.57M1609.90,269.00V373.00M1602.90,269.00H1616.90M1602.90,373.00H1616.90M1619.22,264.00V332.00M1612.22,264.00H1626.22M1612.22,332.00H1626.22M1628.55,213.00V303.00M1621.55,213.00H1635.55M1621.55,303.00H1635.55M1637.88,189.00V277.00M1630.88,189.00H1644.88M1630.88,277.00H1644.88M1647.20,191.00V281.00M1640.20,191.00H1654.20M1640.20,281.00H1654.20M1656.52,218.00V318.00M1649.52,218.00H1663.52M1649.52,318.00H1663.52M1665.85,164.00V302.00M1658.85,164.00H1672.85M1658.85,302.00H1672.85M1675.17,221.00V321.00M1668.17,221.00H1682.17M1668.17,321.00H1682.17M1684.50,230.00V330.00M1677.50,230.00H1691.50M1677.50,330.00H1691.50M1693.82,251.00V351.00M1686.82,251.00H1700.82M1686.82,351.00H1700.82M1703.15,236.00V336.00M1696.15,236.00H1710.15M1696.15,336.00H1710.15M1712.47,288.00V412.00M1705.47,288.00H1719.47M1705.47,412.00H1719.47M1721.80,261.00V361.00M1714.80,261.00H1728.80M1714.80,361.00H1728.80M1731.12,176.00V278.00M1724.12,176.00H1738.12M1724.12,278.00H1738.12M1740.45,201.00V301.00M1733.45,201.00H1747.45M1733.45,301.00H1747.45M1749.77,183.00V293.00M1742.77,183.00H1756.77M1742.77,293.00H1756.77M1759.10,284.00V416.00M1752.10,284.00H1766.10M1752.10,416.00H1766.10M1768.42,224.00V324.00M1761.42,224.00H1775.42M1761.42,324.00H1775.42M1777.75,192.00V292.00M1770.75,192.00H1784.75M1770.75,292.00H1784.75M1787.07,261.00V361.00M1780.07,261.00H1794.07M1780.07,361.00H1794.07M1796.40,155.00V265.00M1789.40,155.00H1803.40M1789.40,265.00H1803.40M1805.72,214.00V316.00M1798.72,214.00H1812.72M1798.72,316.00H1812.72M1815.05,242.00V342.00M1808.05,242.00H1822.05M1808.05,342.00H1822.05M1824.38,257.00V349.00M1817.38,257.00H1831.38M1817.38,349.00H1831.38M1833.70,283.00V383.00M1826.70,283.00H1840.70M1826.70,383.00H1840.70M1843.02,330.00V446.00M1836.02,330.00H1850.02M1836.02,446.00H1850.02M1852.35,369.00V487.00M1845.35,369.00H1859.35M1845.35,487.00H1859.35M1861.67,352.00V468.00M1854.67,352.00H1868.67M1854.67,468.00H1868.67M1871.00,361.00V459.00M1864.00,361.00H1878.00M1864.00,459.00H1878.00M1880.32,380.00V470.00M1873.32,380.00H1887.32M1873.32,470.00H1887.32M1889.65,369.00V461.00M1882.65,369.00H1896.65M1882.65,461.00H1896.65M1898.97,299.00V389.00M1891.97,299.00H1905.97M1891.97,389.00H1905.97M1908.30,296.00V386.00M1901.30,296.00H1915.30M1901.30,386.00H1915.30M1917.62,277.00V351.00M1910.62,277.00H1924.62M1910.62,351.00H1924.62M1926.95,298.00V378.00M1919.95,298.00H1933.95M1919.95,378.00H1933.95M1936.27,321.00V399.00M1929.27,321.00H1943.27M1929.27,399.00H1943.27M1945.60,340.00V420.00M1938.60,340.00H1952.60M1938.60,420.00H1952.60M1954.92,343.00V433.00M1947.92,343.00H1961.92M1947.92,433.00H1961.92M1964.25,374.00V476.00M1957.25,374.00H1971.25M1957.25,476.00H1971.25M1973.57,329.00V419.00M1966.57,329.00H1980.57M1966.57,419.00H1980.57M1982.90,298.00V362.00M1975.90,298.00H1989.90M1975.90,362.00H1989.90M1992.22,296.00V386.00M1985.22,296.00H1999.22M1985.22,386.00H1999.22M2001.55,322.00V408.00M1994.55,322.00H2008.55M1994.55,408.00H2008.55M2010.88,312.00V428.00M2003.88,312.00H2017.88M2003.88,428.00H2017.88M2020.20,339.00V445.00M2013.20,339.00H2027.20M2013.20,445.00H2027.20M2029.52,380.00V452.00M2022.52,380.00H2036.52M2022.52,452.00H2036.52M2038.85,332.00V424.00M2031.85,332.00H2045.85M2031.85,424.00H2045.85M2048.17,330.00V420.00M2041.17,330.00H2055.17M2041.17,420.00H2055.17M2057.50,293.00V413.00M2050.50,293.00H2064.50M2050.50,413.00H2064.50M2066.82,314.00V404.00M2059.82,314.00H2073.82M2059.82,404.00H2073.82M2076.15,344.00V434.00M2069.15,344.00H2083.15M2069.15,434.00H2083.15M2085.47,305.00V395.00M2078.47,305.00H2092.47M2078.47,395.00H2092.47M2094.80,296.00V356.00M2087.80,296.00H2101.80M2087.80,356.00H2101.80M2104.12,306.00V376.00M2097.12,306.00H2111.12M2097.12,376.00H2111.12M2113.45,279.00V361.00M2106.45,279.00H2120.45M2106.45,361.00H2120.45" stroke="#0E2152" stroke-width="4.3" fill="none"/>
<path d="M1581.92,327.00 L1591.25,403.00 L1600.57,365.00 L1609.90,321.00 L1619.22,298.00 L1628.55,258.00 L1637.88,233.00 L1647.20,236.00 L1656.52,268.00 L1665.85,233.00 L1675.17,271.00 L1684.50,280.00 L1693.82,301.00 L1703.15,286.00 L1712.47,350.00 L1721.80,311.00 L1731.12,227.00 L1740.45,251.00 L1749.77,238.00 L1759.10,350.00 L1768.42,274.00 L1777.75,242.00 L1787.07,311.00 L1796.40,210.00 L1805.72,265.00 L1815.05,292.00 L1824.38,303.00 L1833.70,333.00 L1843.02,388.00 L1852.35,428.00 L1861.67,410.00 L1871.00,410.00 L1880.32,425.00 L1889.65,415.00 L1898.97,344.00 L1908.30,341.00 L1917.62,314.00 L1926.95,338.00 L1936.27,360.00 L1945.60,380.00 L1954.92,388.00 L1964.25,425.00 L1973.57,374.00 L1982.90,330.00 L1992.22,341.00 L2001.55,365.00 L2010.88,370.00 L2020.20,392.00 L2029.52,416.00 L2038.85,378.00 L2048.17,375.00 L2057.50,353.00 L2066.82,359.00 L2076.15,389.00 L2085.47,350.00 L2094.80,326.00 L2104.12,341.00 L2113.45,320.00" stroke="#0E2152" stroke-width="5.0" fill="none" stroke-linejoin="miter" stroke-miterlimit="2.5"/>
<path d="M1918.80,122.10H1992.40" stroke="#B5001F" stroke-width="4.2"/>
<path d="M1955.60,111.50V132.90M1948.60,111.50H1962.60M1948.60,132.90H1962.60" stroke="#B5001F" stroke-width="3.8" fill="none"/>
<text x="1997.60" y="131.50" font-size="22.00" text-anchor="start">Monkey V</text>
<path d="M1918.80,152.30H1992.40" stroke="#0E2152" stroke-width="4.2"/>
<path d="M1955.60,141.70V163.10M1948.60,141.70H1962.60M1948.60,163.10H1962.60" stroke="#0E2152" stroke-width="3.8" fill="none"/>
<text x="1997.60" y="161.70" font-size="22.00" text-anchor="start">Monkey W</text>
<text transform="translate(1487.50,350.30) rotate(-90)" font-size="37" text-anchor="middle">3rd eigenvalue vs entropy</text>
<text x="1851.50" y="739.20" font-size="37.40" text-anchor="middle">Time (ms)</text>
<text x="1460.60" y="36.40" font-size="44.70" text-anchor="start">C</text>
<path d="M118.00,774.20V1339.00" stroke="#808080" stroke-width="1.7" fill="none"/>
<path d="M112.20,774.20H118.00" stroke="#808080" stroke-width="1.7"/>
<path d="M112.20,867.38H118.00" stroke="#808080" stroke-width="1.7"/>
<path d="M112.20,960.56H118.00" stroke="#808080" stroke-width="1.7"/>
<path d="M112.20,1053.74H118.00" stroke="#808080" stroke-width="1.7"/>
<path d="M112.20,1146.92H118.00" stroke="#808080" stroke-width="1.7"/>
<path d="M112.20,1240.10H118.00" stroke="#808080" stroke-width="1.7"/>
<path d="M112.20,1333.28H118.00" stroke="#808080" stroke-width="1.7"/>
<path d="M112.20,1333.30H677.50" stroke="#808080" stroke-width="1.7" fill="none"/>
<path d="M118.00,1333.30V1339.00" stroke="#808080" stroke-width="1.7"/>
<path d="M304.50,1333.30V1339.00" stroke="#808080" stroke-width="1.7"/>
<path d="M491.00,1333.30V1339.00" stroke="#808080" stroke-width="1.7"/>
<path d="M677.50,1333.30V1339.00" stroke="#808080" stroke-width="1.7"/>
<path d="M304.50,774.20V1333.30" stroke="#000" stroke-width="2.4" stroke-linecap="round" stroke-dasharray="7.4 12.45" stroke-dashoffset="5.25" fill="none"/>
<text transform="translate(100.40,786.50) scale(1.065,1)" font-size="28.00" text-anchor="end">1</text>
<text transform="translate(100.40,879.68) scale(1.065,1)" font-size="28.00" text-anchor="end">0.8</text>
<text transform="translate(100.40,972.86) scale(1.065,1)" font-size="28.00" text-anchor="end">0.6</text>
<text transform="translate(100.40,1066.04) scale(1.065,1)" font-size="28.00" text-anchor="end">0.4</text>
<text transform="translate(100.40,1159.22) scale(1.065,1)" font-size="28.00" text-anchor="end">0.2</text>
<text transform="translate(100.40,1252.40) scale(1.065,1)" font-size="28.00" text-anchor="end">0</text>
<text transform="translate(100.40,1345.58) scale(1.065,1)" font-size="28.00" text-anchor="end">-0.2</text>
<text transform="translate(118.00,1379.60) scale(1.065,1)" font-size="28.00" text-anchor="middle">-1000</text>
<text transform="translate(304.50,1379.60) scale(1.065,1)" font-size="28.00" text-anchor="middle">0</text>
<text transform="translate(491.00,1379.60) scale(1.065,1)" font-size="28.00" text-anchor="middle">1000</text>
<text transform="translate(677.50,1379.60) scale(1.065,1)" font-size="28.00" text-anchor="middle">2000</text>
<path d="M127.33,1206.00V1232.00M120.33,1206.00H134.32M120.33,1232.00H134.32M136.65,1192.00V1244.00M129.65,1192.00H143.65M129.65,1244.00H143.65M145.97,1214.00V1242.00M138.97,1214.00H152.97M138.97,1242.00H152.97M155.30,1217.00V1247.00M148.30,1217.00H162.30M148.30,1247.00H162.30M164.62,1220.00V1252.00M157.62,1220.00H171.62M157.62,1252.00H171.62M173.95,1217.00V1243.00M166.95,1217.00H180.95M166.95,1243.00H180.95M183.28,1216.00V1242.00M176.28,1216.00H190.28M176.28,1242.00H190.28M192.60,1216.00V1242.00M185.60,1216.00H199.60M185.60,1242.00H199.60M201.93,1213.00V1239.00M194.93,1213.00H208.93M194.93,1239.00H208.93M211.25,1208.00V1236.00M204.25,1208.00H218.25M204.25,1236.00H218.25M220.57,1208.00V1236.00M213.57,1208.00H227.57M213.57,1236.00H227.57M229.90,1212.00V1240.00M222.90,1212.00H236.90M222.90,1240.00H236.90M239.22,1209.00V1255.00M232.22,1209.00H246.22M232.22,1255.00H246.22M248.55,1210.00V1234.00M241.55,1210.00H255.55M241.55,1234.00H255.55M257.88,1197.00V1217.00M250.88,1197.00H264.88M250.88,1217.00H264.88M267.20,1195.00V1213.00M260.20,1195.00H274.20M260.20,1213.00H274.20M276.52,1194.00V1212.00M269.52,1194.00H283.52M269.52,1212.00H283.52M285.85,1194.00V1212.00M278.85,1194.00H292.85M278.85,1212.00H292.85M295.18,1194.00V1212.00M288.18,1194.00H302.18M288.18,1212.00H302.18M304.50,1194.00V1212.00M297.50,1194.00H311.50M297.50,1212.00H311.50M313.82,1175.00V1203.00M306.82,1175.00H320.82M306.82,1203.00H320.82M323.15,1162.00V1190.00M316.15,1162.00H330.15M316.15,1190.00H330.15M332.48,1146.00V1174.00M325.48,1146.00H339.48M325.48,1174.00H339.48M341.80,1121.00V1153.00M334.80,1121.00H348.80M334.80,1153.00H348.80M351.12,1095.00V1127.00M344.12,1095.00H358.12M344.12,1127.00H358.12M360.45,1081.00V1117.00M353.45,1081.00H367.45M353.45,1117.00H367.45M369.77,1055.00V1097.00M362.77,1055.00H376.77M362.77,1097.00H376.77M379.10,1029.00V1065.00M372.10,1029.00H386.10M372.10,1065.00H386.10M388.43,990.00V1052.00M381.43,990.00H395.43M381.43,1052.00H395.43M397.75,985.00V1041.00M390.75,985.00H404.75M390.75,1041.00H404.75M407.07,955.00V1037.00M400.07,955.00H414.07M400.07,1037.00H414.07M416.40,948.00V1018.00M409.40,948.00H423.40M409.40,1018.00H423.40M425.73,948.00V1018.00M418.73,948.00H432.73M418.73,1018.00H432.73M435.05,958.00V1018.00M428.05,958.00H442.05M428.05,1018.00H442.05M444.38,941.00V1029.00M437.38,941.00H451.38M437.38,1029.00H451.38M453.70,941.00V1031.00M446.70,941.00H460.70M446.70,1031.00H460.70M463.02,951.00V1031.00M456.02,951.00H470.02M456.02,1031.00H470.02M472.35,956.00V1050.00M465.35,956.00H479.35M465.35,1050.00H479.35M481.68,953.00V1047.00M474.68,953.00H488.68M474.68,1047.00H488.68M491.00,962.00V1034.00M484.00,962.00H498.00M484.00,1034.00H498.00M500.32,955.00V1021.00M493.32,955.00H507.32M493.32,1021.00H507.32M509.65,945.00V1021.00M502.65,945.00H516.65M502.65,1021.00H516.65M518.98,952.00V1028.00M511.98,952.00H525.98M511.98,1028.00H525.98M528.30,979.00V1065.00M521.30,979.00H535.30M521.30,1065.00H535.30M537.62,995.00V1063.00M530.62,995.00H544.62M530.62,1063.00H544.62M546.95,1039.00V1095.00M539.95,1039.00H553.95M539.95,1095.00H553.95M556.27,1047.00V1099.00M549.27,1047.00H563.27M549.27,1099.00H563.27M565.60,1056.00V1116.00M558.60,1056.00H572.60M558.60,1116.00H572.60M574.92,1067.00V1127.00M567.92,1067.00H581.92M567.92,1127.00H581.92M584.25,1076.00V1128.00M577.25,1076.00H591.25M577.25,1128.00H591.25M593.58,1086.00V1140.00M586.58,1086.00H600.58M586.58,1140.00H600.58M602.90,1090.00V1140.00M595.90,1090.00H609.90M595.90,1140.00H609.90M612.23,1093.00V1145.00M605.23,1093.00H619.23M605.23,1145.00H619.23M621.55,1095.00V1137.00M614.55,1095.00H628.55M614.55,1137.00H628.55M630.88,1091.00V1145.00M623.88,1091.00H637.88M623.88,1145.00H637.88M640.20,1095.00V1139.00M633.20,1095.00H647.20M633.20,1139.00H647.20M649.52,1124.00V1170.00M642.52,1124.00H656.52M642.52,1170.00H656.52M658.85,1105.00V1153.00M651.85,1105.00H665.85M651.85,1153.00H665.85" stroke="#B5001F" stroke-width="4.3" fill="none"/>
<path d="M127.33,1219.00 L136.65,1218.00 L145.97,1228.00 L155.30,1232.00 L164.62,1236.00 L173.95,1230.00 L183.28,1229.00 L192.60,1229.00 L201.93,1226.00 L211.25,1222.00 L220.57,1222.00 L229.90,1226.00 L239.22,1232.00 L248.55,1222.00 L257.88,1207.00 L267.20,1204.00 L276.52,1203.00 L285.85,1203.00 L295.18,1203.00 L304.50,1203.00 L313.82,1189.00 L323.15,1176.00 L332.48,1160.00 L341.80,1137.00 L351.12,1111.00 L360.45,1099.00 L369.77,1076.00 L379.10,1047.00 L388.43,1021.00 L397.75,1013.00 L407.07,996.00 L416.40,983.00 L425.73,983.00 L435.05,988.00 L444.38,985.00 L453.70,986.00 L463.02,991.00 L472.35,1003.00 L481.68,1000.00 L491.00,998.00 L500.32,988.00 L509.65,983.00 L518.98,990.00 L528.30,1022.00 L537.62,1029.00 L546.95,1067.00 L556.27,1073.00 L565.60,1086.00 L574.92,1097.00 L584.25,1102.00 L593.58,1113.00 L602.90,1115.00 L612.23,1119.00 L621.55,1116.00 L630.88,1118.00 L640.20,1117.00 L649.52,1147.00 L658.85,1129.00" stroke="#B5001F" stroke-width="5.0" fill="none" stroke-linejoin="miter" stroke-miterlimit="2.5"/>
<path d="M127.33,1156.00V1186.00M120.33,1156.00H134.32M120.33,1186.00H134.32M136.65,1163.00V1191.00M129.65,1163.00H143.65M129.65,1191.00H143.65M145.97,1160.00V1188.00M138.97,1160.00H152.97M138.97,1188.00H152.97M155.30,1163.00V1191.00M148.30,1163.00H162.30M148.30,1191.00H162.30M164.62,1160.00V1188.00M157.62,1160.00H171.62M157.62,1188.00H171.62M173.95,1163.00V1191.00M166.95,1163.00H180.95M166.95,1191.00H180.95M183.28,1167.00V1195.00M176.28,1167.00H190.28M176.28,1195.00H190.28M192.60,1170.00V1198.00M185.60,1170.00H199.60M185.60,1198.00H199.60M201.93,1177.00V1205.00M194.93,1177.00H208.93M194.93,1205.00H208.93M211.25,1183.00V1211.00M204.25,1183.00H218.25M204.25,1211.00H218.25M220.57,1190.00V1218.00M213.57,1190.00H227.57M213.57,1218.00H227.57M229.90,1196.00V1224.00M222.90,1196.00H236.90M222.90,1224.00H236.90M239.22,1199.00V1227.00M232.22,1199.00H246.22M232.22,1227.00H246.22M248.55,1203.00V1231.00M241.55,1203.00H255.55M241.55,1231.00H255.55M257.88,1204.00V1232.00M250.88,1204.00H264.88M250.88,1232.00H264.88M267.20,1204.00V1232.00M260.20,1204.00H274.20M260.20,1232.00H274.20M276.52,1206.00V1234.00M269.52,1206.00H283.52M269.52,1234.00H283.52M285.85,1213.00V1241.00M278.85,1213.00H292.85M278.85,1241.00H292.85M295.18,1216.00V1244.00M288.18,1216.00H302.18M288.18,1244.00H302.18M304.50,1210.00V1238.00M297.50,1210.00H311.50M297.50,1238.00H311.50M313.82,1194.00V1222.00M306.82,1194.00H320.82M306.82,1222.00H320.82M323.15,1170.00V1200.00M316.15,1170.00H330.15M316.15,1200.00H330.15M332.48,1145.00V1175.00M325.48,1145.00H339.48M325.48,1175.00H339.48M341.80,1129.00V1159.00M334.80,1129.00H348.80M334.80,1159.00H348.80M351.12,1087.00V1133.00M344.12,1087.00H358.12M344.12,1133.00H358.12M360.45,1018.00V1082.00M353.45,1018.00H367.45M353.45,1082.00H367.45M369.77,935.00V1019.00M362.77,935.00H376.77M362.77,1019.00H376.77M379.10,888.00V958.00M372.10,888.00H386.10M372.10,958.00H386.10M388.43,835.00V933.00M381.43,835.00H395.43M381.43,933.00H395.43M397.75,820.00V920.00M390.75,820.00H404.75M390.75,920.00H404.75M407.07,824.00V924.00M400.07,824.00H414.07M400.07,924.00H414.07M416.40,821.00V925.00M409.40,821.00H423.40M409.40,925.00H423.40M425.73,817.00V929.00M418.73,817.00H432.73M418.73,929.00H432.73M435.05,823.00V927.00M428.05,823.00H442.05M428.05,927.00H442.05M444.38,831.00V941.00M437.38,831.00H451.38M437.38,941.00H451.38M453.70,850.00V954.00M446.70,850.00H460.70M446.70,954.00H460.70M463.02,875.00V975.00M456.02,875.00H470.02M456.02,975.00H470.02M472.35,901.00V991.00M465.35,901.00H479.35M465.35,991.00H479.35M481.68,936.00V1012.00M474.68,936.00H488.68M474.68,1012.00H488.68M491.00,949.00V1029.00M484.00,949.00H498.00M484.00,1029.00H498.00M500.32,978.00V1032.00M493.32,978.00H507.32M493.32,1032.00H507.32M509.65,985.00V1045.00M502.65,985.00H516.65M502.65,1045.00H516.65M518.98,996.00V1044.00M511.98,996.00H525.98M511.98,1044.00H525.98M528.30,1005.00V1057.00M521.30,1005.00H535.30M521.30,1057.00H535.30M537.62,1009.00V1063.00M530.62,1009.00H544.62M530.62,1063.00H544.62M546.95,1018.00V1072.00M539.95,1018.00H553.95M539.95,1072.00H553.95M556.27,1021.00V1085.00M549.27,1021.00H563.27M549.27,1085.00H563.27M565.60,1044.00V1098.00M558.60,1044.00H572.60M558.60,1098.00H572.60M574.92,1044.00V1104.00M567.92,1044.00H581.92M567.92,1104.00H581.92M584.25,1043.00V1111.00M577.25,1043.00H591.25M577.25,1111.00H591.25M593.58,1043.00V1111.00M586.58,1043.00H600.58M586.58,1111.00H600.58M602.90,1043.00V1111.00M595.90,1043.00H609.90M595.90,1111.00H609.90M612.23,1042.00V1110.00M605.23,1042.00H619.23M605.23,1110.00H619.23M621.55,1056.00V1112.00M614.55,1056.00H628.55M614.55,1112.00H628.55M630.88,1066.00V1118.00M623.88,1066.00H637.88M623.88,1118.00H637.88M640.20,1068.00V1122.00M633.20,1068.00H647.20M633.20,1122.00H647.20M649.52,1086.00V1124.00M642.52,1086.00H656.52M642.52,1124.00H656.52M658.85,1086.00V1124.00M651.85,1086.00H665.85M651.85,1124.00H665.85" stroke="#0E2152" stroke-width="4.3" fill="none"/>
<path d="M127.33,1171.00 L136.65,1177.00 L145.97,1174.00 L155.30,1177.00 L164.62,1174.00 L173.95,1177.00 L183.28,1181.00 L192.60,1184.00 L201.93,1191.00 L211.25,1197.00 L220.57,1204.00 L229.90,1210.00 L239.22,1213.00 L248.55,1217.00 L257.88,1218.00 L267.20,1218.00 L276.52,1220.00 L285.85,1227.00 L295.18,1230.00 L304.50,1224.00 L313.82,1208.00 L323.15,1185.00 L332.48,1160.00 L341.80,1144.00 L351.12,1110.00 L360.45,1050.00 L369.77,977.00 L379.10,923.00 L388.43,884.00 L397.75,870.00 L407.07,874.00 L416.40,873.00 L425.73,873.00 L435.05,875.00 L444.38,886.00 L453.70,902.00 L463.02,925.00 L472.35,946.00 L481.68,974.00 L491.00,989.00 L500.32,1005.00 L509.65,1015.00 L518.98,1020.00 L528.30,1031.00 L537.62,1036.00 L546.95,1045.00 L556.27,1053.00 L565.60,1071.00 L574.92,1074.00 L584.25,1077.00 L593.58,1077.00 L602.90,1077.00 L612.23,1076.00 L621.55,1084.00 L630.88,1092.00 L640.20,1095.00 L649.52,1105.00 L658.85,1105.00" stroke="#0E2152" stroke-width="5.0" fill="none" stroke-linejoin="miter" stroke-miterlimit="2.5"/>
<path d="M464.20,811.80H537.80" stroke="#B5001F" stroke-width="4.2"/>
<path d="M501.00,801.20V822.60M494.00,801.20H508.00M494.00,822.60H508.00" stroke="#B5001F" stroke-width="3.8" fill="none"/>
<text x="543.00" y="821.20" font-size="22.00" text-anchor="start">Monkey W</text>
<path d="M464.20,842.00H537.80" stroke="#0E2152" stroke-width="4.2"/>
<path d="M501.00,831.40V852.80M494.00,831.40H508.00M494.00,852.80H508.00" stroke="#0E2152" stroke-width="3.8" fill="none"/>
<text x="543.00" y="851.40" font-size="22.00" text-anchor="start">Monkey V</text>
<text transform="translate(33.00,1054.20) rotate(-90)" font-size="37.4" text-anchor="middle">Correlation (3D vs 1D)</text>
<text x="396.90" y="1427.20" font-size="37.00" text-anchor="middle">Time</text>
<text x="5.50" y="764.40" font-size="44.70" text-anchor="start">D</text>
</svg>
</body></html>
